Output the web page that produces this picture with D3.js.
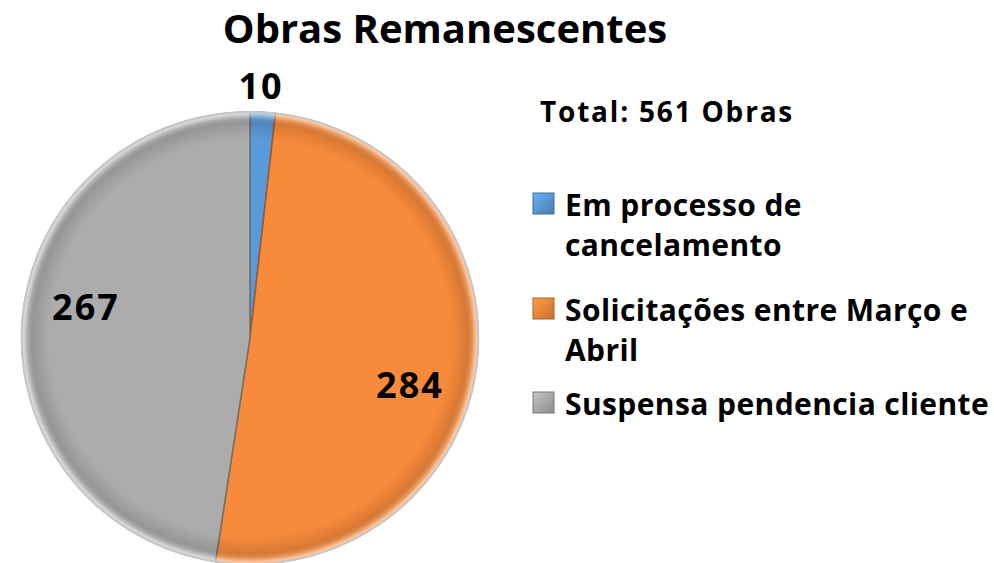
<!DOCTYPE html>
<html>
<head>
<meta charset="utf-8">
<script src="https://cdn.jsdelivr.net/npm/d3@7.9.0/dist/d3.min.js"></script>
<style>
  body { margin: 0; background: #fff; }
  text { font-family: "Open Sans", "DejaVu Sans", sans-serif; font-weight: bold; }
</style>
</head>
<body>
<svg id="chart" width="994" height="563"></svg>
<script>
// data
const categories = ['Em processo de cancelamento', 'Solicitações entre Março e Abril', 'Suspensa pendencia cliente'];
const values = [10, 284, 267];
const legendLines = [['Em processo de', 'cancelamento'], ['Solicitações entre Março e', 'Abril'], ['Suspensa pendencia cliente']];
const colors = ['#5a9ad8', '#f88a3b', '#acacac'];
const total = d3.sum(values);

const svg = d3.select('#chart');
const defs = svg.append('defs');

// bevel-like shading over each slice
const shade = defs.append('radialGradient').attr('id', 'shade')
  .attr('gradientUnits', 'userSpaceOnUse').attr('cx', 0).attr('cy', 0).attr('r', 226);
shade.append('stop').attr('offset', '0.88').attr('stop-color', '#000').attr('stop-opacity', 0);
shade.append('stop').attr('offset', '0.95').attr('stop-color', '#000').attr('stop-opacity', 0.12);
shade.append('stop').attr('offset', '0.985').attr('stop-color', '#fff').attr('stop-opacity', 0.35);
shade.append('stop').attr('offset', '1').attr('stop-color', '#fff').attr('stop-opacity', 0.7);

// title
svg.append('text').attr('x', 445).attr('y', 43).attr('text-anchor', 'middle')
  .attr('font-size', 40).attr('fill', '#000').text('Obras Remanescentes');

const cx = 250, cy = 338, r = 226;
const g = svg.append('g').attr('transform', `translate(${cx},${cy}) scale(1.01,1)`);

const pie = d3.pie().sort(null).value(d => d);
const arcs = pie(values);
const arc = d3.arc().innerRadius(0).outerRadius(r);

g.selectAll('path.slice').data(arcs).join('path')
  .attr('class', 'slice')
  .attr('d', arc)
  .attr('fill', (d, i) => colors[i])
  .attr('stroke', (d, i) => d3.color(colors[i]).darker(1.2))
  .attr('stroke-width', 1.5)
  .attr('stroke-linejoin', 'round');

g.selectAll('path.shade').data(arcs).join('path')
  .attr('class', 'shade')
  .attr('d', arc)
  .attr('fill', 'url(#shade)');

// outer rim
g.append('circle').attr('r', r).attr('fill', 'none').attr('stroke', '#c8c8c8').attr('stroke-width', 2);

// value labels
const labelPos = [[261, 99], [410, 398], [86, 320]];
svg.selectAll('text.val').data(values).join('text')
  .attr('class', 'val')
  .attr('x', (d, i) => labelPos[i][0])
  .attr('y', (d, i) => labelPos[i][1])
  .attr('text-anchor', 'middle')
  .attr('font-size', 36)
  .attr('letter-spacing', 2)
  .attr('fill', '#000')
  .text(d => d);

// total
svg.append('text').attr('x', 540).attr('y', 122).attr('font-size', 28)
  .attr('letter-spacing', 1.8)
  .attr('fill', '#000').text(`Total: ${total} Obras`);

// legend
const legY = [216, 321, 415];
const lg = svg.selectAll('g.leg').data(categories).join('g').attr('class', 'leg')
  .attr('transform', (d, i) => `translate(533,${legY[i]})`);

categories.forEach((c, i) => {
  const grad = defs.append('linearGradient').attr('id', 'sw' + i)
    .attr('x1', 0).attr('y1', 0).attr('x2', 1).attr('y2', 1);
  grad.append('stop').attr('offset', 0).attr('stop-color', d3.color(colors[i]).brighter(0.4));
  grad.append('stop').attr('offset', 1).attr('stop-color', d3.color(colors[i]).darker(0.6));
});

lg.append('rect').attr('x', 0).attr('y', -23).attr('width', 21).attr('height', 21)
  .attr('fill', (d, i) => `url(#sw${i})`)
  .attr('stroke', (d, i) => d3.color(colors[i]).darker(1)).attr('stroke-width', 1);

lg.each(function (d, i) {
  const t = d3.select(this).append('text').attr('x', 32).attr('y', 0)
    .attr('font-size', 30).attr('letter-spacing', 0.4).attr('fill', '#000');
  legendLines[i].forEach((line, j) => {
    t.append('tspan').attr('x', 32).attr('dy', j === 0 ? 0 : 40).text(line);
  });
});
</script>
</body>
</html>
